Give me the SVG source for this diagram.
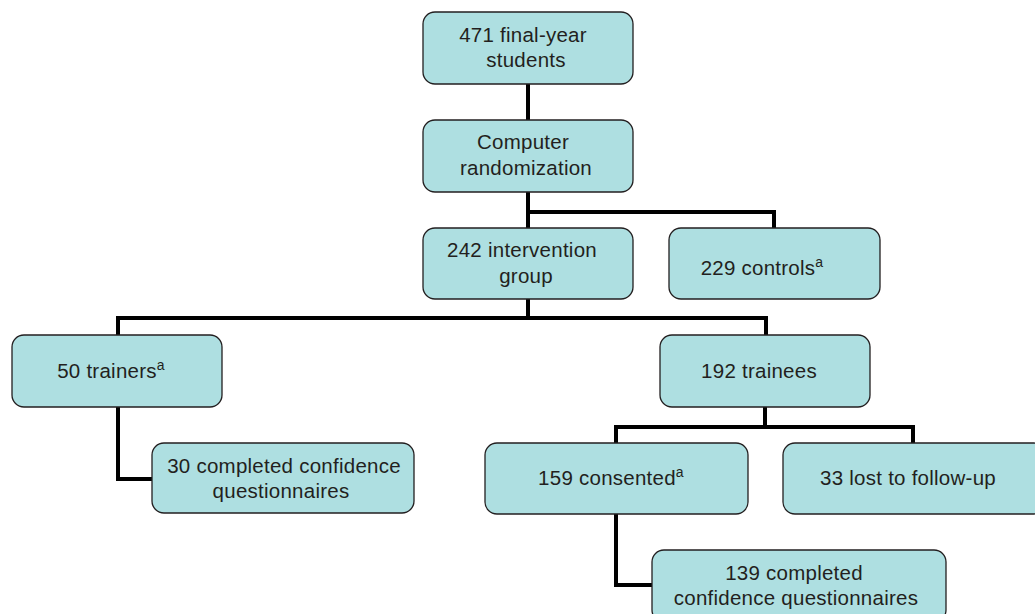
<svg xmlns="http://www.w3.org/2000/svg" width="1035" height="614" viewBox="0 0 1035 614">
<style>
.box{fill:#aedfe1;stroke:#231f20;stroke-width:1.3}
.t{font-family:"Liberation Sans",Arial,sans-serif;font-size:20.5px;letter-spacing:0.25px;fill:#231f20;text-anchor:middle}
.s{font-size:14px}
.c{fill:none;stroke:#000;stroke-width:4;stroke-linejoin:miter;stroke-linecap:square}
</style>
<rect width="1035" height="614" fill="#fff"/>
<g id="connectors">
<path class="c" d="M528,84 V120"/>
<path class="c" d="M528,192 V228"/>
<path class="c" d="M528,212 H774 V228"/>
<path class="c" d="M528,299 V318"/>
<path class="c" d="M118,335 V318 H766 V335"/>
<path class="c" d="M118,407 V479 H152"/>
<path class="c" d="M765,407 V427"/>
<path class="c" d="M616,443 V427 H913 V443"/>
<path class="c" d="M616,514 V585 H652"/>
</g>
<g id="n1"><rect class="box" x="423" y="12" width="210" height="72" rx="12"/>
<text class="t" x="523" y="42">471 final-year</text><text class="t" x="526" y="67">students</text></g>
<g id="n2"><rect class="box" x="423" y="120" width="210" height="72" rx="12"/>
<text class="t" x="523" y="149">Computer</text><text class="t" x="526" y="175">randomization</text></g>
<g id="n3"><rect class="box" x="423" y="228" width="210" height="71" rx="12"/>
<text class="t" x="522" y="257">242 intervention</text><text class="t" x="526" y="283">group</text></g>
<g id="n4"><rect class="box" x="669" y="228" width="211" height="71" rx="12"/>
<text class="t" x="762" y="275">229 controls<tspan class="s" dy="-8">a</tspan></text></g>
<g id="n5"><rect class="box" x="12" y="335" width="210" height="72" rx="12"/>
<text class="t" x="111" y="378">50 trainers<tspan class="s" dy="-8">a</tspan></text></g>
<g id="n6"><rect class="box" x="660" y="335" width="210" height="72" rx="12"/>
<text class="t" x="759" y="378">192 trainees</text></g>
<g id="n7"><rect class="box" x="152" y="443" width="262" height="70" rx="12"/>
<text class="t" x="284" y="473">30 completed confidence</text><text class="t" x="281" y="498">questionnaires</text></g>
<g id="n8"><rect class="box" x="485" y="443" width="263" height="71" rx="12"/>
<text class="t" x="611" y="485">159 consented<tspan class="s" dy="-8">a</tspan></text></g>
<g id="n9"><rect class="box" x="783" y="443" width="263" height="71" rx="12"/>
<text class="t" x="908" y="485">33 lost to follow-up</text></g>
<g id="n10"><rect class="box" x="652" y="550" width="294" height="72" rx="12"/>
<text class="t" x="794" y="580">139 completed</text><text class="t" x="796" y="605">confidence questionnaires</text></g>
</svg>
